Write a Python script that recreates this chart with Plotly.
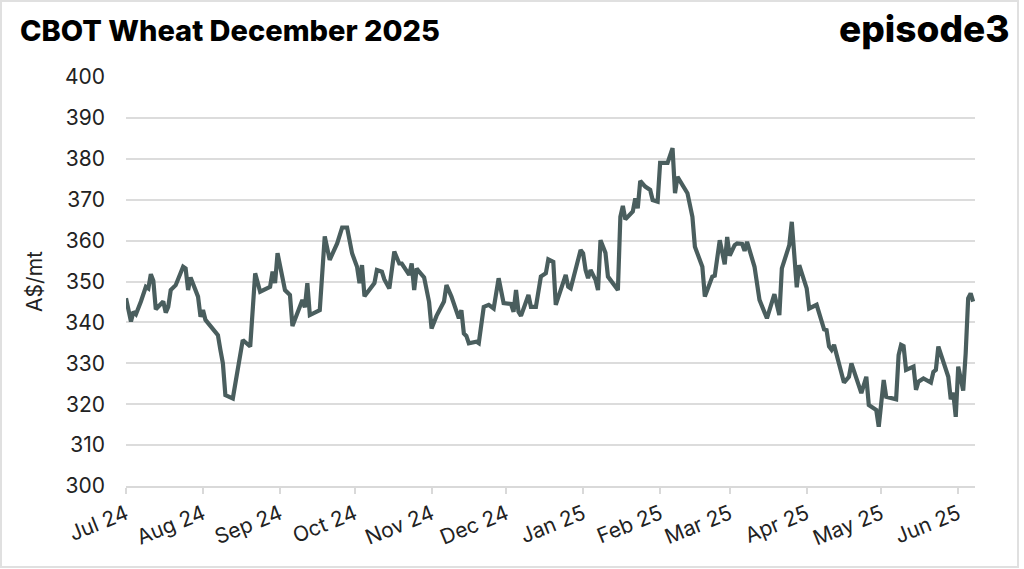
import plotly.graph_objects as go

dates = [
    "2024-07-01","2024-07-03","2024-07-04","2024-07-05","2024-07-07","2024-07-09","2024-07-10","2024-07-11",
    "2024-07-12","2024-07-13","2024-07-16","2024-07-17","2024-07-18","2024-07-19","2024-07-21","2024-07-24",
    "2024-07-25","2024-07-26","2024-07-27","2024-07-30","2024-07-31","2024-08-01","2024-08-02","2024-08-06",
    "2024-08-07","2024-08-08","2024-08-09","2024-08-10","2024-08-13","2024-08-17","2024-08-20","2024-08-22",
    "2024-08-24","2024-08-28","2024-08-29","2024-08-30","2024-08-31","2024-09-03","2024-09-05","2024-09-06",
    "2024-09-10","2024-09-11","2024-09-12","2024-09-13","2024-09-17","2024-09-19","2024-09-21","2024-09-24",
    "2024-09-25","2024-09-26","2024-09-28","2024-09-30","2024-10-02","2024-10-03","2024-10-04","2024-10-05",
    "2024-10-09","2024-10-10","2024-10-12","2024-10-13","2024-10-15","2024-10-17","2024-10-19","2024-10-20",
    "2024-10-23","2024-10-24","2024-10-25","2024-10-26","2024-10-27","2024-10-29","2024-10-31","2024-11-01",
    "2024-11-03","2024-11-06","2024-11-07","2024-11-09","2024-11-12","2024-11-13","2024-11-14","2024-11-15",
    "2024-11-16","2024-11-19","2024-11-20","2024-11-22","2024-11-24","2024-11-26","2024-11-28","2024-11-30",
    "2024-12-03","2024-12-04","2024-12-05","2024-12-06","2024-12-07","2024-12-10","2024-12-11","2024-12-13",
    "2024-12-15","2024-12-17","2024-12-18","2024-12-20","2024-12-21","2024-12-25","2024-12-26","2024-12-27",
    "2024-12-31","2025-01-01","2025-01-02","2025-01-03","2025-01-04","2025-01-06","2025-01-07","2025-01-08",
    "2025-01-10","2025-01-11","2025-01-15","2025-01-16","2025-01-17","2025-01-18","2025-01-21","2025-01-22",
    "2025-01-23","2025-01-24","2025-01-26","2025-01-28","2025-01-29","2025-01-31","2025-02-01","2025-02-04",
    "2025-02-06","2025-02-07","2025-02-08","2025-02-12","2025-02-14","2025-02-15","2025-02-18","2025-02-19",
    "2025-02-20","2025-02-22","2025-02-23","2025-02-25","2025-02-27","2025-02-28","2025-03-01","2025-03-03",
    "2025-03-04","2025-03-06","2025-03-07","2025-03-08","2025-03-11","2025-03-13","2025-03-16","2025-03-19",
    "2025-03-21","2025-03-22","2025-03-25","2025-03-26","2025-03-28","2025-03-29","2025-04-01","2025-04-02",
    "2025-04-05","2025-04-08","2025-04-09","2025-04-10","2025-04-11","2025-04-12","2025-04-16","2025-04-18",
    "2025-04-19","2025-04-23","2025-04-25","2025-04-26","2025-04-29","2025-04-30","2025-05-02","2025-05-03",
    "2025-05-07","2025-05-08","2025-05-09","2025-05-10","2025-05-11","2025-05-14","2025-05-15","2025-05-16",
    "2025-05-18","2025-05-21","2025-05-22","2025-05-23","2025-05-24","2025-05-28","2025-05-29","2025-05-30",
    "2025-05-31","2025-06-01","2025-06-03","2025-06-04","2025-06-05","2025-06-06","2025-06-07",
]

prices = [
    345.9,340.2,342.6,342.0,345.1,348.7,348.3,351.8,
    350.2,343.2,345.1,342.4,343.8,347.9,349.1,353.6,
    353.2,347.9,351.0,346.3,341.4,343.0,340.6,337.7,
    336.9,333.3,330.0,322.2,321.4,335.7,334.1,352.0,
    347.5,348.7,352.4,349.6,356.9,347.9,346.7,339.1,
    345.5,343.7,349.6,341.8,343.0,361.0,355.3,359.3,
    361.0,363.2,363.2,356.9,353.6,349.6,354.0,346.4,
    349.6,352.8,352.4,350.5,348.3,357.3,354.4,354.4,
    351.6,354.4,347.9,353.2,352.4,351.0,345.0,338.5,
    341.6,345.1,349.1,346.3,341.0,343.0,337.3,336.7,
    334.9,335.3,334.9,343.8,344.3,343.4,350.8,344.7,
    344.5,342.6,347.9,342.6,341.6,346.7,343.8,343.8,
    351.2,352.0,355.4,354.8,344.3,351.6,348.7,348.3,
    357.7,356.9,352.8,350.8,352.8,350.4,347.9,360.1,
    357.0,351.2,347.9,365.8,368.5,365.2,367.1,370.3,
    367.9,374.6,373.2,372.4,369.9,369.5,379.0,379.0,
    382.6,371.6,375.6,371.6,365.8,358.5,353.6,346.3,
    347.9,351.2,351.4,360.1,354.2,360.9,356.3,358.9,
    359.3,359.2,357.5,359.7,353.6,345.5,341.0,346.9,
    341.8,353.2,358.9,364.6,348.6,354.0,348.3,343.4,
    344.3,338.3,338.1,334.1,333.3,334.5,325.3,326.7,
    330.0,322.7,326.7,319.8,318.6,314.5,325.9,321.8,
    321.2,332.0,334.5,334.2,328.4,329.2,323.5,325.5,
    326.3,325.3,327.9,328.4,334.1,326.7,321.2,322.8,
    316.9,329.2,323.3,332.4,345.9,347.1,345.1,
]

tick_vals = ["2024-07-01","2024-08-01","2024-09-01","2024-10-01","2024-11-01","2024-12-01",
             "2025-01-01","2025-02-01","2025-03-01","2025-04-01","2025-05-01","2025-06-01"]
tick_text = ["Jul 24","Aug 24","Sep 24","Oct 24","Nov 24","Dec 24",
             "Jan 25","Feb 25","Mar 25","Apr 25","May 25","Jun 25"]
y_ticks = list(range(300, 401, 10))

title_text = "CBOT Wheat December 2025"
logo_text = "episode3"
y_title = "A$/mt"

W, H = 1024, 569
L, R, T, B = 126, 49, 77, 83
pw, ph = W - L - R, H - T - B

def px_x(p):
    return (p - L) / pw

def px_y(p):
    return (H - B - p) / ph

fig = go.Figure()
fig.add_trace(go.Scatter(
    x=dates, y=prices, mode="lines",
    line=dict(color="#4A5E5E", width=4.2),
    hoverinfo="x+y",
))

fig.update_layout(
    width=W, height=H,
    margin=dict(l=L, r=R, t=T, b=B),
    paper_bgcolor="white", plot_bgcolor="white",
    showlegend=False,
    font=dict(family="Inter, Lato, sans-serif", color="#222222"),
    title=dict(
        text=title_text,
        xref="container", yref="container",
        x=20 / W, xanchor="left",
        y=1 - 31 / H, yanchor="middle",
        font=dict(family="Inter", size=29, color="#000000", weight=800),
    ),
    xaxis=dict(
        type="date",
        range=["2024-07-01", "2025-06-07 18:00"],
        tickvals=tick_vals, ticktext=tick_text,
        tickangle=-22,
        tickfont=dict(family="Inter", size=21, color="#222222"),
        showgrid=False,
        showline=True, linecolor="#d9d9d9", linewidth=1.5,
        ticks="outside", ticklen=6, tickcolor="#d9d9d9", tickwidth=1.5,
        zeroline=False,
    ),
    yaxis=dict(
        range=[300, 400],
        tickvals=y_ticks,
        tickfont=dict(family="Inter", size=21, color="#222222"),
        showgrid=True, gridcolor="#dcdcdc", gridwidth=1.5,
        zeroline=False,
        ticklabelstandoff=20,
        title=dict(text=y_title, font=dict(family="Inter", size=21, color="#222222"), standoff=16),
    ),
    annotations=[
        dict(
            text=logo_text, xref="paper", yref="paper",
            x=px_x(1012), xanchor="right",
            y=px_y(29), yanchor="middle",
            showarrow=False,
            font=dict(family="Inter", size=37, color="#000000", weight=800),
        )
    ],
    shapes=[
        dict(type="rect", xref="paper", yref="paper",
             x0=px_x(1), x1=px_x(1018), y0=px_y(567), y1=px_y(1),
             line=dict(color="#e0e0e0", width=2), fillcolor="rgba(0,0,0,0)", layer="below")
    ],
)

fig.write_html(
    "out.html",
    config={"displayModeBar": False},
    post_script="document.body.style.margin='0';document.body.style.overflow='hidden';",
)
